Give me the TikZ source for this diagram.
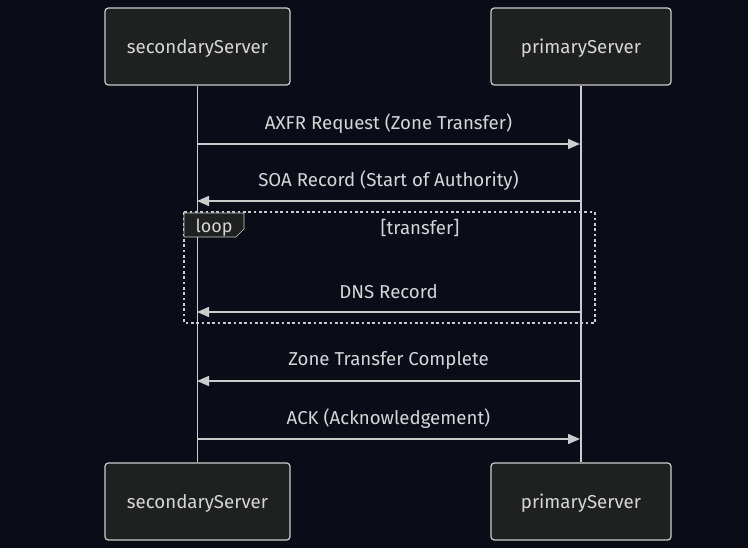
\documentclass[tikz,border=0pt]{standalone}
\usepackage{fontspec}
\setmainfont{Fira Sans}
\usetikzlibrary{arrows.meta,positioning}
\definecolor{bgdark}{RGB}{10,12,24}
\definecolor{boxfill}{RGB}{31,32,32}
\definecolor{linegray}{RGB}{204,204,204}
\definecolor{txtgray}{RGB}{214,214,214}

\begin{document}
\begin{tikzpicture}[x=0.75pt,y=-0.75pt,
    actor/.style={draw=linegray, fill=boxfill, line width=0.9pt, rounded corners=2.5pt,
      minimum height=57.75pt, text=txtgray, text height=13pt, text depth=2pt,
      font=\fontsize{14}{16}\selectfont},
    msg/.style={draw=linegray, line width=1.1pt, -{Triangle[length=9pt,width=7.5pt]}},
    msglabel/.style={midway, yshift=15.5pt, text=txtgray, font=\fontsize{14}{16}\selectfont},
    lifeline/.style={draw=linegray, line width=1.1pt}]
        % background and frame
        \fill[bgdark] (0,0) rectangle (748,548);
        \useasboundingbox (0,0) rectangle (748,548);
        % participants
        \node[actor, minimum width=138.75pt] (secTop) at (197.5,46.5) {secondaryServer};
        \node[actor, minimum width=135pt] (priTop) at (581,46.5) {primaryServer};
        \node[actor, minimum width=138.75pt] (secBot) at (197.5,501.5) {secondaryServer};
        \node[actor, minimum width=135pt] (priBot) at (581,501.5) {primaryServer};
        % lifelines
        \draw[lifeline] (secTop.south) -- (secBot.north);
        \draw[lifeline] (priTop.south) -- (priBot.north);
        % message end points
        \coordinate (axfrS) at (197,144);  \coordinate (axfrP) at (580,144);
        \coordinate (soaS) at (197,201);   \coordinate (soaP) at (580,201);
        \coordinate (dnsS) at (197,312);   \coordinate (dnsP) at (580,312);
        \coordinate (doneS) at (197,381);  \coordinate (doneP) at (580,381);
        \coordinate (ackS) at (197,439);   \coordinate (ackP) at (580,439);
        % loop frame
        \draw[linegray, line width=1.5pt, dash pattern=on 2pt off 2pt] (184,212.5) rectangle (595,323);
        \draw[linegray, fill=boxfill, line width=0.5pt]
          (184,213) -- (244,213) -- (244,229) -- (236,237) -- (184,237) -- cycle;
        \node[text=txtgray, font=\fontsize{13.5}{15}\selectfont] (loopTag) at (214,228) {loop};
        \node[text=txtgray, font=\fontsize{14}{16}\selectfont] (loopCond) at (420,228) {[transfer]};
        % messages
        \draw[msg] (axfrS) -- node[msglabel] {AXFR Request (Zone Transfer)} (axfrP);
        \draw[msg] (soaP) -- node[msglabel] {SOA Record (Start of Authority)} (soaS);
        \draw[msg] (dnsP) -- node[msglabel] {DNS Record} (dnsS);
        \draw[msg] (doneP) -- node[msglabel] {Zone Transfer Complete} (doneS);
        \draw[msg] (ackS) -- node[msglabel] {ACK (Acknowledgement)} (ackP);
\end{tikzpicture}
\end{document}
